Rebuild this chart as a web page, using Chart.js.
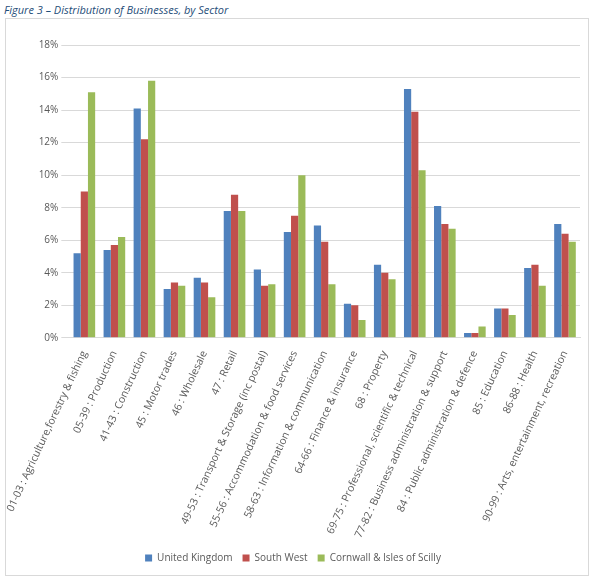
<!DOCTYPE html>
<html><head><meta charset="utf-8">
<script src="https://cdn.jsdelivr.net/npm/chart.js@4"></script>
<style>
body{margin:0;background:#fff;font-family:"Open Sans",sans-serif;}
#title{position:absolute;left:4px;top:2px;font-size:11px;font-style:italic;color:#1F4E79;}
#box{position:absolute;left:5px;top:18px;width:584px;height:558px;border:1px solid #d9d9d9;box-sizing:border-box;}
canvas{position:absolute;left:0;top:0;}
</style></head><body>
<div id="title">Figure 3 – Distribution of Businesses, by Sector</div>
<div id="box"><canvas id="c" width="582" height="556"></canvas></div>
<script>
const categories=["01-03 : Agriculture,forestry & fishing","05-39 : Production","41-43 : Construction","45 : Motor trades","46 : Wholesale","47 : Retail","49-53 : Transport & Storage (inc postal)","55-56 : Accommodation & food services","58-63 : Information & communication","64-66 : Finance & insurance","68 : Property","69-75 : Professional, scientific & technical","77-82 : Business administration & support","84 : Public administration & defence","85 : Education","86-88 : Health","90-99 : Arts, entertainment, recreation"];
const uk=[5.2,5.4,14.1,3.0,3.7,7.8,4.2,6.5,6.9,2.1,4.5,15.3,8.1,0.3,1.8,4.3,7.0];
const sw=[9.0,5.7,12.2,3.4,3.4,8.8,3.2,7.5,5.9,2.0,4.0,13.9,7.0,0.3,1.8,4.5,6.4];
const cios=[15.1,6.2,15.8,3.2,2.5,7.8,3.3,10.0,3.3,1.1,3.6,10.3,6.7,0.7,1.4,3.2,5.9];
const seriesNames=["United Kingdom","South West","Cornwall & Isles of Scilly"];
Chart.defaults.font.family='"Open Sans",sans-serif';
Chart.defaults.font.size=10;
Chart.defaults.color='#595959';
new Chart(document.getElementById('c'),{type:'bar',
data:{labels:categories,datasets:[
{label:seriesNames[0],data:uk,backgroundColor:'#4F81BD'},
{label:seriesNames[1],data:sw,backgroundColor:'#C0504D'},
{label:seriesNames[2],data:cios,backgroundColor:'#9BBB59'}]},
options:{responsive:false,animation:false,
layout:{padding:{top:26,right:8,left:0,bottom:2}},
datasets:{bar:{categoryPercentage:0.72,barPercentage:1}},
plugins:{legend:{position:'bottom',labels:{boxWidth:7,boxHeight:7,padding:10,font:{size:10}}},tooltip:{enabled:false}},
scales:{y:{min:0,max:18,ticks:{stepSize:2,callback:v=>v+'%'},grid:{color:'#d9d9d9'},border:{display:false}},
x:{grid:{display:false},border:{color:'#d9d9d9'},ticks:{maxRotation:65,minRotation:65,autoSkip:false,font:{size:10.5}}}}}});
</script></body></html>
